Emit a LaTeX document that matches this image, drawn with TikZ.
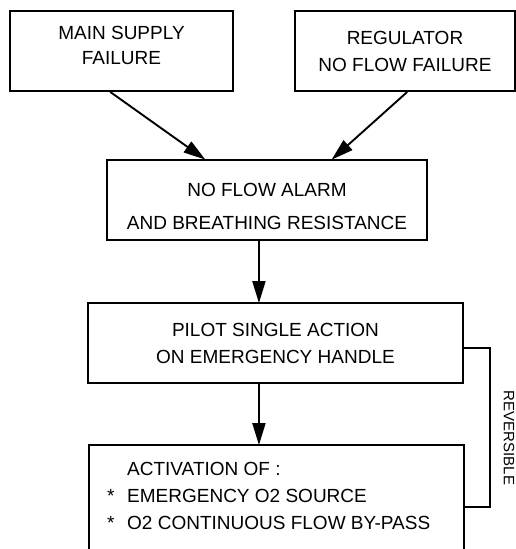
\documentclass[tikz,border=0pt]{standalone}
\usepackage{fontspec}
\setmainfont{Liberation Sans}
\usetikzlibrary{arrows.meta,positioning,calc}

\begin{document}
\begin{tikzpicture}[
    x=1pt, y=-1pt,
    box/.style={rectangle, draw, line width=1.9pt, minimum height=80pt, align=center,
        font=\fontsize{19}{27}\selectfont, inner sep=0pt},
    arrow/.style={-{Triangle[length=22pt,width=13pt]}, line width=1.9pt, shorten >=-1pt},
]
    \useasboundingbox (0,0) rectangle (516,549);

    % Failures
    \node[box, minimum width=223pt, font=\fontsize{19}{25}\selectfont] (mainfail) at (121.5,51) {MAIN SUPPLY\\FAILURE\\[-14pt]};
    \node[box, minimum width=220pt] (regfail) at (405,51) {REGULATOR\\NO FLOW FAILURE};

    % Alarm
    \node[box, minimum width=320pt, font=\fontsize{19}{33}\selectfont] (alarm) at (267,200) {\\[-6pt]NO FLOW ALARM\\AND BREATHING RESISTANCE};

    % Pilot action
    \node[box, minimum width=375pt] (action) at (275.5,343) {PILOT SINGLE ACTION\\ON EMERGENCY HANDLE};

    % Activation
    \node[box, minimum width=375pt, minimum height=124pt] (activation) at (276.5,507) {};
    \node[anchor=north west, align=left, font=\fontsize{19}{27}\selectfont, inner sep=0pt]
        (activtext) at (107,462)
        {\makebox[20pt][l]{}ACTIVATION OF :\\\makebox[20pt][l]{*}EMERGENCY O2 SOURCE\\\makebox[20pt][l]{*}O2 CONTINUOUS FLOW BY-PASS};

    % Arrows
    \draw[arrow] ($(mainfail.south west)!0.45!(mainfail.south east)$) -- ($(alarm.north west)!0.306!(alarm.north east)$);
    \draw[arrow] ($(regfail.south west)!0.51!(regfail.south east)$) -- ($(alarm.north west)!0.703!(alarm.north east)$);
    \draw[arrow] ($(alarm.south west)!0.475!(alarm.south east)$) coordinate (down) -- (down |- action.north);
    \draw[arrow] (down |- action.south) -- (down |- activation.north);

    % Reversible
    \draw[line width=1.3pt] ([yshift=-5pt]action.east) -| ($(activation.east)+(25,0)$) -- (activation.east);
    \node[rotate=-90, font=\fontsize{15}{18}\selectfont] (revlabel) at (509,438) {REVERSIBLE};
\end{tikzpicture}
\end{document}
